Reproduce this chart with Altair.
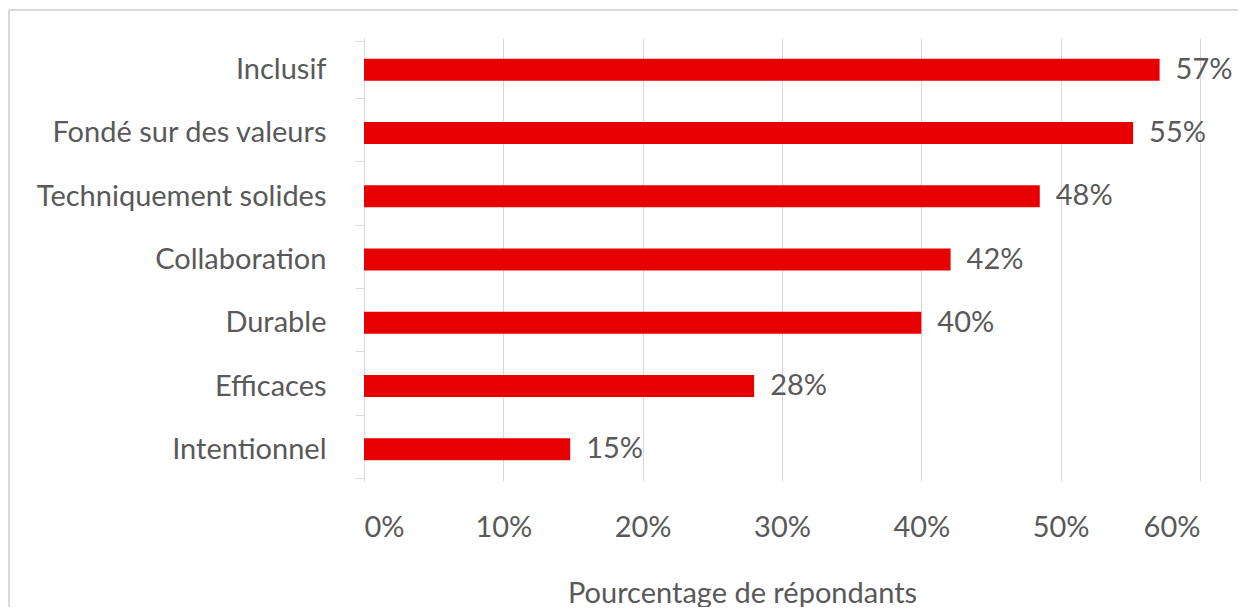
import altair as alt
import pandas as pd

categories = ["Inclusif", "Fondé sur des valeurs", "Techniquement solides", "Collaboration",
              "Durable", "Efficaces", "Intentionnel"]
values = [0.571, 0.552, 0.485, 0.421, 0.400, 0.280, 0.148]
x_ticks = [0, 0.1, 0.2, 0.3, 0.4, 0.5, 0.6]

df = pd.DataFrame({"cat": categories, "val": values})
df["label"] = [f"{round(v*100)}%" for v in values]

FONT = "Lato"
FS = 29
TXT = "#595959"
GRID = "#d9d9d9"
W, H = 836, 443

ycat = alt.Y("cat:N", sort=categories, title=None,
             axis=alt.Axis(tickBand="extent", tickSize=9, tickColor=GRID, domainColor=GRID,
                           labelFont=FONT, labelFontSize=FS, labelColor=TXT, labelPadding=29,
                           labelLimit=0))

border = alt.Chart(df).mark_rect(fill=None, stroke=GRID, strokeWidth=1).encode(
    x=alt.value(-355), x2=alt.value(W + 60), y=alt.value(-28), y2=alt.value(H + 200)
)

bars = alt.Chart(df).mark_bar(color="#E60000", size=22).encode(
    x=alt.X("val:Q", scale=alt.Scale(domain=[0, 0.6], nice=False),
            axis=alt.Axis(values=x_ticks, format=".0%", grid=True, gridColor=GRID, domain=False,
                          ticks=False, labelFont=FONT, labelFontSize=FS, labelColor=TXT,
                          labelPadding=32, title="Pourcentage de répondants",
                          titleFont=FONT, titleFontSize=FS, titleColor=TXT, titleFontWeight="normal",
                          titleX=378, titleY=112, titleBaseline="middle", titleAlign="center")),
    y=ycat,
)

text = alt.Chart(df).mark_text(align="left", baseline="middle", dx=16, font=FONT,
                               fontSize=FS, color=TXT).encode(
    x="val:Q", y=alt.Y("cat:N", sort=categories), text="label:N"
)

chart = alt.layer(border, bars, text).properties(
    width=W, height=H,
    autosize=alt.AutoSizeParams(type="none"),
    padding={"left": 356, "top": 30, "right": 38, "bottom": 126},
).configure_view(stroke=None)

chart.save("out.html", embed_options={"renderer": "svg", "actions": False})
